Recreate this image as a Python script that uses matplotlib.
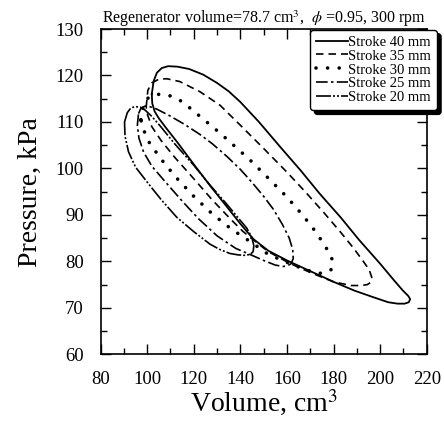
import matplotlib
matplotlib.use("Agg")
import matplotlib.pyplot as plt
from matplotlib.ticker import MultipleLocator

plt.rcParams['font.family'] = ['Liberation Serif', 'DejaVu Serif']
plt.rcParams['mathtext.fontset'] = 'stix'

# Stroke 40 mm
vol_40 = [102.0, 102.8, 104.2, 106.3, 109.0, 113.0, 118.0, 124.0, 130.0, 135.0, 140.0, 148.0,
          157.0, 166.0, 174.0, 183.0, 191.0, 200.0, 206.0, 209.8, 212.0, 212.9, 212.3, 210.5,
          207.5, 203.5, 197.0, 189.0, 180.0, 170.0, 160.0, 152.0, 145.6, 140.0, 134.0, 127.0,
          120.0, 113.0, 108.0, 105.0, 103.2, 102.2, 102.0]
pres_40 = [116.0, 118.8, 120.6, 121.6, 122.0, 121.9, 121.4, 120.2, 118.4, 116.6, 114.3, 110.0,
           104.7, 99.5, 94.6, 89.5, 84.6, 79.5, 75.9, 73.7, 72.6, 71.9, 71.2, 70.9,
           70.9, 71.2, 72.3, 73.7, 75.6, 77.9, 80.2, 82.3, 84.8, 88.1, 91.9, 96.3,
           100.9, 105.6, 108.8, 110.8, 112.3, 114.0, 116.0]

# Stroke 35 mm
vol_35 = [99.6, 100.3, 102.0, 105.0, 108.4, 114.0, 122.7, 131.3, 140.0, 150.0, 160.0, 168.0,
          176.0, 183.0, 188.5, 192.5, 195.3, 196.4, 196.0, 194.5, 192.0, 187.5, 180.0, 172.0,
          165.0, 160.0, 152.0, 145.6, 141.0, 136.0, 128.0, 120.0, 112.0, 106.0, 102.0, 100.2, 99.6]
pres_35 = [113.2, 116.8, 118.4, 119.2, 119.3, 118.7, 116.5, 113.6, 109.3, 104.3, 99.2, 94.9,
           90.4, 86.3, 82.9, 80.2, 78.2, 76.6, 75.5, 75.0, 74.8, 74.8, 75.6, 77.2,
           78.7, 79.9, 82.1, 84.6, 86.5, 89.0, 93.2, 97.8, 102.3, 106.0, 109.0, 111.5, 113.2]

# Stroke 30 mm
vol_30 = [97.3, 98.3, 100.0, 102.5, 106.0, 110.0, 115.0, 122.7, 131.3, 144.2, 152.0, 159.9,
          167.0, 172.0, 175.5, 178.2, 179.6, 179.7, 178.8, 177.0, 173.5, 168.0, 160.0, 152.0,
          145.0, 136.0, 128.0, 120.0, 112.0, 106.0, 101.0, 98.3, 97.3]
pres_30 = [110.5, 113.5, 115.0, 115.8, 116.0, 115.6, 114.4, 111.2, 107.6, 101.8, 97.9, 93.9,
           89.8, 86.6, 84.0, 81.8, 80.2, 79.0, 78.1, 77.6, 77.4, 78.2, 79.8, 81.5,
           84.0, 87.0, 90.2, 94.0, 98.3, 102.0, 105.5, 108.5, 110.5]

# Stroke 25 mm
vol_25 = [96.3, 97.3, 99.0, 100.5, 104.0, 109.8, 116.0, 122.7, 128.0, 134.2, 140.0, 145.0,
          150.0, 154.2, 158.0, 161.0, 162.5, 162.7, 161.8, 160.0, 158.3, 155.0, 150.0, 145.0,
          138.0, 130.0, 122.0, 115.0, 108.0, 102.0, 98.5, 96.5, 95.8, 96.3]
pres_25 = [111.8, 112.9, 113.4, 113.4, 112.8, 111.3, 109.5, 107.3, 105.3, 102.6, 99.8, 97.0,
           94.0, 91.2, 88.0, 85.0, 82.5, 80.6, 79.5, 79.0, 78.9, 79.2, 80.2, 81.3,
           82.8, 85.5, 89.2, 93.0, 97.0, 100.5, 103.5, 106.5, 109.2, 111.8]

# Stroke 20 mm
vol_20 = [90.3, 91.5, 93.0, 94.8, 97.0, 99.0, 102.0, 105.5, 112.0, 119.8, 127.0, 134.2,
          139.0, 142.7, 144.8, 145.8, 145.5, 144.3, 142.0, 139.0, 135.5, 131.0, 127.0, 120.0,
          112.7, 106.0, 100.1, 95.0, 92.0, 90.5, 90.3]
pres_20 = [110.0, 112.0, 113.0, 113.3, 113.2, 112.6, 111.2, 109.2, 105.2, 100.8, 96.4, 92.3,
           89.4, 87.2, 85.3, 83.4, 82.1, 81.5, 81.3, 81.4, 81.7, 82.6, 83.7, 86.4,
           89.5, 93.3, 97.0, 100.3, 103.6, 107.0, 110.0]

labels = ['Stroke 40 mm', 'Stroke 35 mm', 'Stroke 30 mm', 'Stroke 25 mm', 'Stroke 20 mm']

fig = plt.figure(figsize=(4.44, 4.23), dpi=100)
ax = fig.add_axes([0.2264, 0.1624, 0.7347, 0.769])

ax.plot(vol_40, pres_40, color='black', lw=1.3, ls='-', label=labels[0])
ax.plot(vol_35, pres_35, color='black', lw=1.2, ls=(0, (4.5, 3)), label=labels[1])
ax.plot(vol_30, pres_30, color='black', lw=2.6, ls=(0, (0.01, 3.2)),
        dash_capstyle='round', label=labels[2])
ax.plot(vol_25, pres_25, color='black', lw=1.2, ls=(0, (7, 2, 1.5, 2)), label=labels[3])
ax.plot(vol_20, pres_20, color='black', lw=1.2,
        ls=(0, (9, 1.2, 1.2, 1.2, 1.2, 1.2)), label=labels[4])

ax.set_xlim(80, 220)
ax.set_ylim(60, 130)
ax.xaxis.set_major_locator(MultipleLocator(20))
ax.xaxis.set_minor_locator(MultipleLocator(10))
ax.yaxis.set_major_locator(MultipleLocator(10))
ax.yaxis.set_minor_locator(MultipleLocator(5))
ax.tick_params(which='both', direction='in', top=True, right=True, width=1.0,
               labelsize=13.5)
ax.tick_params(axis='x', which='both', pad=12)
ax.tick_params(axis='y', which='both', pad=12)
ax.tick_params(which='major', length=7)
ax.tick_params(which='minor', length=4)
for sp in ax.spines.values():
    sp.set_linewidth(1.2)

ax.set_xlabel(r'Volume, cm$^3$', fontsize=20, labelpad=0)
ax.set_ylabel('Pressure, kPa', fontsize=20, labelpad=9)
ax.set_title(r'Regenerator volume=78.7 cm$^3$,  $\phi$ =0.95, 300 rpm', fontsize=11.5, pad=-1)

leg = ax.legend(loc='upper right', bbox_to_anchor=(0.984, 0.93), bbox_transform=fig.transFigure,
                fontsize=10.5, handlelength=2.2, handletextpad=0.0, labelspacing=0.05,
                borderpad=0.4, borderaxespad=0, fancybox=True,
                shadow={'color': 'black', 'alpha': 1.0, 'ox': 3, 'oy': -3},
                framealpha=1, edgecolor='black')
leg.get_frame().set_linewidth(1.0)

fig.savefig('out.png', dpi=100)
